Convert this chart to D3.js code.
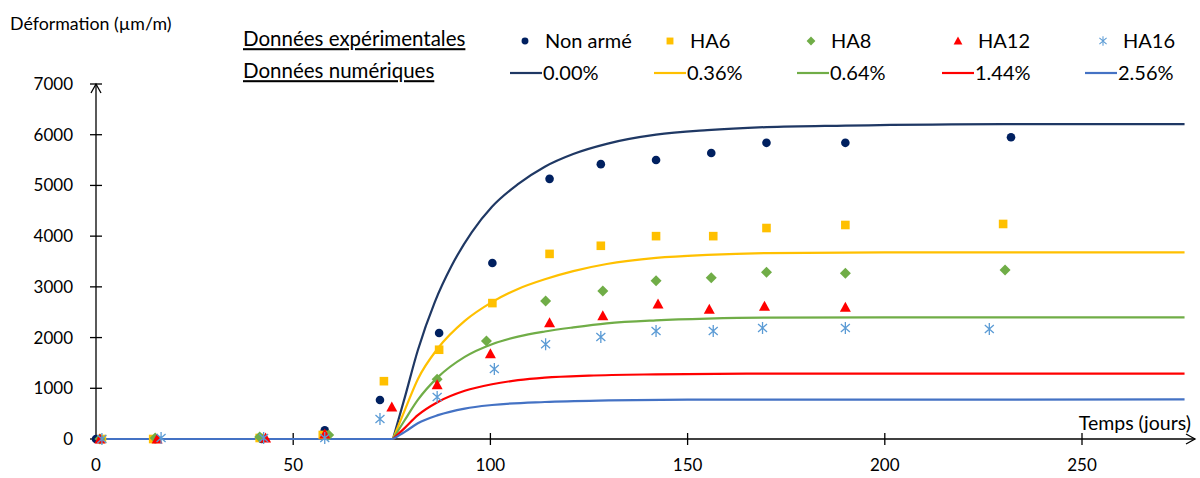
<!DOCTYPE html>
<meta charset="utf-8">
<style>
body { margin: 0; background: #fff; }
text { font-family: Lato, "Open Sans", sans-serif; fill: #000; }
.axis line, .axis path { stroke: #000; stroke-width: 1.3px; fill: none; }
.serie { fill: none; stroke-width: 2.2px; }
</style>
<svg width="1200" height="478"></svg>
<script src="https://cdn.jsdelivr.net/npm/d3@7/dist/d3.min.js"></script>
<script>
var width = 1200, height = 478;

// experimental points (days, µm/m)
var nonArmeJours = [0, 15, 42, 58, 72, 87, 100.5, 115, 128, 142, 156, 170, 190, 232];
var nonArmeVal   = [0, 0, 0, 170, 770, 2090, 3470, 5130, 5420, 5500, 5640, 5840, 5840, 5950];
var ha6Jours = [1.5, 14.5, 41.5, 57.5, 73, 87, 100.5, 115, 128, 142, 156.5, 170, 190, 230];
var ha6Val   = [0, 0, 20, 80, 1140, 1760, 2680, 3650, 3810, 4000, 4000, 4160, 4220, 4240];
var ha8Jours = [1, 15, 41.5, 59, 86.5, 99, 114, 128.5, 142, 156, 170, 190, 230.5];
var ha8Val   = [0, 20, 40, 80, 1180, 1930, 2720, 2920, 3120, 3180, 3290, 3270, 3330];
var ha12Jours = [1, 15.5, 43, 58, 75, 86.5, 100, 115, 128.5, 142.5, 155.5, 169.5, 190];
var ha12Val   = [0, 0, 20, 100, 630, 1070, 1680, 2290, 2430, 2660, 2560, 2620, 2600];
var ha16Jours = [1.5, 16.5, 42.5, 58, 72, 86.5, 101, 114, 128, 142, 156.5, 169, 190, 226.5];
var ha16Val   = [0, 20, 20, 20, 395, 830, 1380, 1870, 2010, 2130, 2130, 2190, 2190, 2170];

// numerical curves (flat at 0 until day 75.3)
var numJours0  = [75.3, 78.3, 81.6, 85.9, 90.2, 95.3, 100.4, 106.9, 113.8, 121, 129.5, 142, 155, 170, 190, 230, 276];
var numVal0    = [0, 820, 1750, 2700, 3420, 4080, 4580, 5020, 5370, 5620, 5820, 6000, 6090, 6150, 6180, 6210, 6210];
var numJours36 = [75.3, 78.3, 81.6, 86.7, 93.5, 100.4, 107, 113.8, 121, 129.5, 142, 155, 170, 200, 276];
var numVal36   = [0, 570, 1180, 1790, 2330, 2700, 2960, 3150, 3310, 3450, 3570, 3630, 3665, 3680, 3680];
var numJours64 = [75.3, 78.3, 81.6, 86.7, 93.5, 100.4, 107, 113.8, 121, 129.5, 142, 155, 170, 200, 276];
var numVal64   = [0, 375, 770, 1220, 1620, 1870, 2020, 2120, 2200, 2280, 2340, 2375, 2395, 2400, 2400];
var numJours144 = [75.3, 78.3, 81.6, 86.7, 93.5, 100.4, 107, 113.8, 125, 142, 170, 276];
var numVal144   = [0, 220, 470, 730, 950, 1080, 1160, 1210, 1250, 1275, 1290, 1290];
var numJours256 = [75.3, 78.3, 81.6, 86.7, 93.5, 100.4, 113.8, 130, 150, 276];
var numVal256   = [0, 140, 310, 470, 600, 670, 730, 760, 775, 780];

var xTicks = [0, 50, 100, 150, 200, 250];
var yTicks = [0, 1000, 2000, 3000, 4000, 5000, 6000, 7000];

var exp = [
  {nom: "Non armé", jours: nonArmeJours, val: nonArmeVal, col: "#002060", forme: "rond"},
  {nom: "HA6", jours: ha6Jours, val: ha6Val, col: "#FFC000", forme: "carre"},
  {nom: "HA8", jours: ha8Jours, val: ha8Val, col: "#70AD47", forme: "losange"},
  {nom: "HA12", jours: ha12Jours, val: ha12Val, col: "#FF0000", forme: "triangle"},
  {nom: "HA16", jours: ha16Jours, val: ha16Val, col: "#5B9BD5", forme: "etoile"}
];
var num = [
  {nom: "0.00%", jours: numJours0, val: numVal0, col: "#1F3864"},
  {nom: "0.36%", jours: numJours36, val: numVal36, col: "#FFC000"},
  {nom: "0.64%", jours: numJours64, val: numVal64, col: "#70AD47"},
  {nom: "1.44%", jours: numJours144, val: numVal144, col: "#FF0000"},
  {nom: "2.56%", jours: numJours256, val: numVal256, col: "#4472C4"}
];

var x = d3.scaleLinear().domain([0, 250]).range([96, 1082]);
var y = d3.scaleLinear().domain([0, 7000]).range([439, 84]);

var svg = d3.select("svg");

// axes
var gy = svg.append("g").attr("class", "axis");
gy.append("line").attr("x1", x(0)).attr("x2", x(0)).attr("y1", y(0)).attr("y2", y(7000));
gy.append("path").attr("d", "M" + (x(0) - 5) + "," + (y(7000) + 9) + "L" + x(0) + "," + y(7000) + "L" + (x(0) + 5) + "," + (y(7000) + 9));
gy.selectAll(".tk").data(yTicks).enter().append("line")
    .attr("x1", x(0) - 6).attr("x2", x(0) + 6)
    .attr("y1", function(d) { return y(d); }).attr("y2", function(d) { return y(d); });
gy.selectAll(".lb").data(yTicks).enter().append("text")
    .attr("x", 73).attr("y", function(d) { return y(d); })
    .attr("dy", "0.35em").attr("text-anchor", "end")
    .style("font-size", "17px")
    .text(function(d) { return d; });

var xEnd = 1195;
var gx = svg.append("g").attr("class", "axis");
gx.append("line").attr("x1", x(0)).attr("x2", xEnd).attr("y1", y(0)).attr("y2", y(0));
gx.append("path").attr("d", "M" + (xEnd - 9) + "," + (y(0) - 5) + "L" + xEnd + "," + y(0) + "L" + (xEnd - 9) + "," + (y(0) + 5));
gx.selectAll(".tk").data(xTicks.slice(1)).enter().append("line")
    .attr("x1", function(d) { return x(d); }).attr("x2", function(d) { return x(d); })
    .attr("y1", y(0) - 6).attr("y2", y(0) + 6);
gx.selectAll(".lb").data(xTicks).enter().append("text")
    .attr("x", function(d) { return x(d); }).attr("y", 465)
    .attr("dy", "0.35em").attr("text-anchor", "middle")
    .style("font-size", "17px")
    .text(function(d) { return d; });

svg.append("text").attr("x", 1191).attr("y", 423).attr("dy", "0.35em")
    .attr("text-anchor", "end").style("font-size", "19.5px").text("Temps (jours)");
svg.append("text").attr("x", 10).attr("y", 24).attr("dy", "0.35em")
    .style("font-size", "17.8px").text("Déformation (µm/m)");

// numerical curves
var ligne = d3.line()
    .x(function(d) { return x(d[0]); })
    .y(function(d) { return y(d[1]); })
    .curve(d3.curveMonotoneX);

num.forEach(function(s) {
  var pts = s.jours.map(function(j, i) { return [j, s.val[i]]; });
  svg.append("path").attr("class", "serie").attr("stroke", s.col)
      .attr("d", "M" + x(0) + "," + y(0) + "L" + x(s.jours[0]) + "," + y(0));
  svg.append("path").attr("class", "serie").attr("stroke", s.col).attr("d", ligne(pts));
});

// markers
function marqueur(g, forme, col) {
  if (forme === "rond") {
    g.append("circle").attr("r", 4.3).attr("fill", col);
  } else if (forme === "carre") {
    g.append("rect").attr("x", -4.3).attr("y", -4.3).attr("width", 8.6).attr("height", 8.6).attr("fill", col);
  } else if (forme === "losange") {
    g.append("path").attr("d", "M0,-5.5L5.5,0L0,5.5L-5.5,0Z").attr("fill", col);
  } else if (forme === "triangle") {
    g.append("path").attr("d", "M0,-5.5L5.5,4.5L-5.5,4.5Z").attr("fill", col);
  } else {
    g.append("path").attr("d", "M0,-6V6M-4.5,-4L4.5,4M-4.5,4L4.5,-4")
        .attr("stroke", col).attr("stroke-width", 1.3).attr("fill", "none");
  }
}

exp.forEach(function(s) {
  s.jours.forEach(function(j, i) {
    var g = svg.append("g").attr("transform", "translate(" + x(j) + "," + y(s.val[i]) + ")");
    marqueur(g, s.forme, s.col);
  });
});

// legend
var legTitres = [
  {t: "Données expérimentales", y: 39},
  {t: "Données numériques", y: 71}
];
legTitres.forEach(function(d) {
  svg.append("text").attr("x", 243).attr("y", d.y).attr("dy", "0.35em")
      .style("font-size", "20.5px").style("text-decoration", "underline").text(d.t);
});

var legX = [525, 670, 811, 958, 1103];
exp.forEach(function(s, i) {
  var g = svg.append("g").attr("transform", "translate(" + legX[i] + ",41)");
  var gm = g.append("g").attr("transform", "scale(0.8)");
  marqueur(gm, s.forme, s.col);
  g.append("text").attr("x", 20).attr("dy", "0.35em").style("font-size", "20px").text(s.nom);
});
var legLX = [510, 654, 797, 942, 1085];
num.forEach(function(s, i) {
  var g = svg.append("g").attr("transform", "translate(" + legLX[i] + ",73)");
  g.append("line").attr("x1", 0).attr("x2", 32).attr("stroke", s.col).attr("stroke-width", 2.2);
  g.append("text").attr("x", 33).attr("dy", "0.35em").style("font-size", "20px").text(s.nom);
});
</script>
